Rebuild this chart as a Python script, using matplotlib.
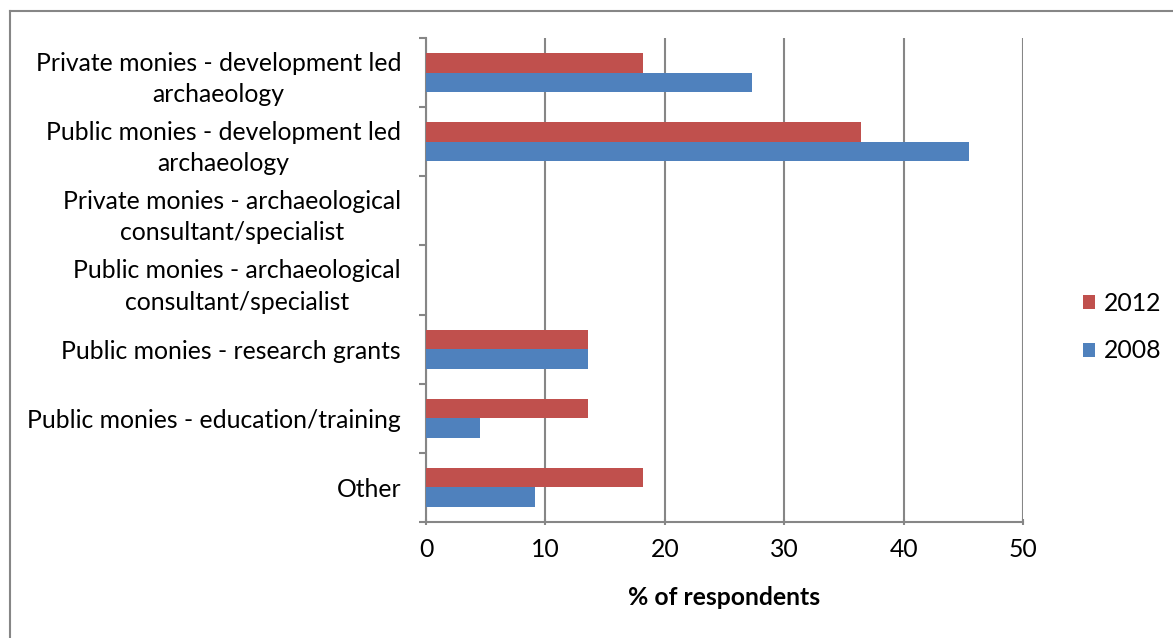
import matplotlib
matplotlib.use('Agg')
from matplotlib import pyplot as plt
from matplotlib.lines import Line2D
import numpy as np

categories = ['Private monies - development led\narchaeology',
              'Public monies - development led\narchaeology',
              'Private monies - archaeological\nconsultant/specialist',
              'Public monies - archaeological\nconsultant/specialist',
              'Public monies - research grants',
              'Public monies - education/training',
              'Other']
values_2012 = [18.2, 36.4, 0, 0, 13.6, 13.6, 18.2]
values_2008 = [27.3, 45.5, 0, 0, 13.6, 4.5, 9.1]
x_ticks = [0, 10, 20, 30, 40, 50]

red = '#C0504D'
blue = '#4F81BD'
grid_grey = '#868686'
fs = 17.8

plt.rcParams['font.family'] = ['Lato', 'DejaVu Sans']

fig = plt.figure(figsize=(11.73, 6.38), dpi=100)
ax = fig.add_axes([426 / 1173, 1 - 522 / 638, (1023 - 426) / 1173, (522 - 38) / 638])

pos = np.arange(len(categories))
h = 0.283
ax.barh(pos - h / 2, values_2012, height=h, color=red, label='2012', zorder=3)
ax.barh(pos + h / 2, values_2008, height=h, color=blue, label='2008', zorder=3)

ax.set_xlim(0, 50)
ax.set_ylim(len(categories) - 0.5, -0.5)
ax.set_xticks(x_ticks)
ax.set_xticklabels([str(t) for t in x_ticks], fontsize=fs)
ax.set_yticks(pos)
ax.set_yticklabels(categories, fontsize=fs, multialignment='center', linespacing=1.45)
ax.set_yticks(np.arange(-0.5, len(categories)), minor=True)
ax.tick_params(axis='y', which='major', length=0, pad=18)
ax.tick_params(axis='y', which='minor', length=5, width=1.5, color=grid_grey)
ax.tick_params(axis='x', length=5, width=1.5, color=grid_grey, pad=9, direction='inout')

ax.grid(axis='x', color=grid_grey, linewidth=1.5, zorder=0)
for side in ['top', 'right']:
    ax.spines[side].set_visible(False)
for side in ['left', 'bottom']:
    ax.spines[side].set_color(grid_grey)
    ax.spines[side].set_linewidth(1.5)

ax.set_xlabel('% of respondents', fontsize=fs, fontweight='bold', labelpad=18)

leg = fig.legend(loc='center left', bbox_to_anchor=(1083 / 1173, 1 - 327 / 638), frameon=False,
                 fontsize=fs, handlelength=0.5, handleheight=0.5, handletextpad=0.35,
                 labelspacing=1.0, borderpad=0, borderaxespad=0)

# outer chart border (top and left visible only)
fig.add_artist(Line2D([10 / 1173, 10 / 1173], [0, 1 - 11 / 638], transform=fig.transFigure,
                      color=grid_grey, linewidth=1.5))
fig.add_artist(Line2D([10 / 1173, 1], [1 - 11 / 638, 1 - 11 / 638], transform=fig.transFigure,
                      color=grid_grey, linewidth=1.5))

fig.savefig('out.png', dpi=100)
